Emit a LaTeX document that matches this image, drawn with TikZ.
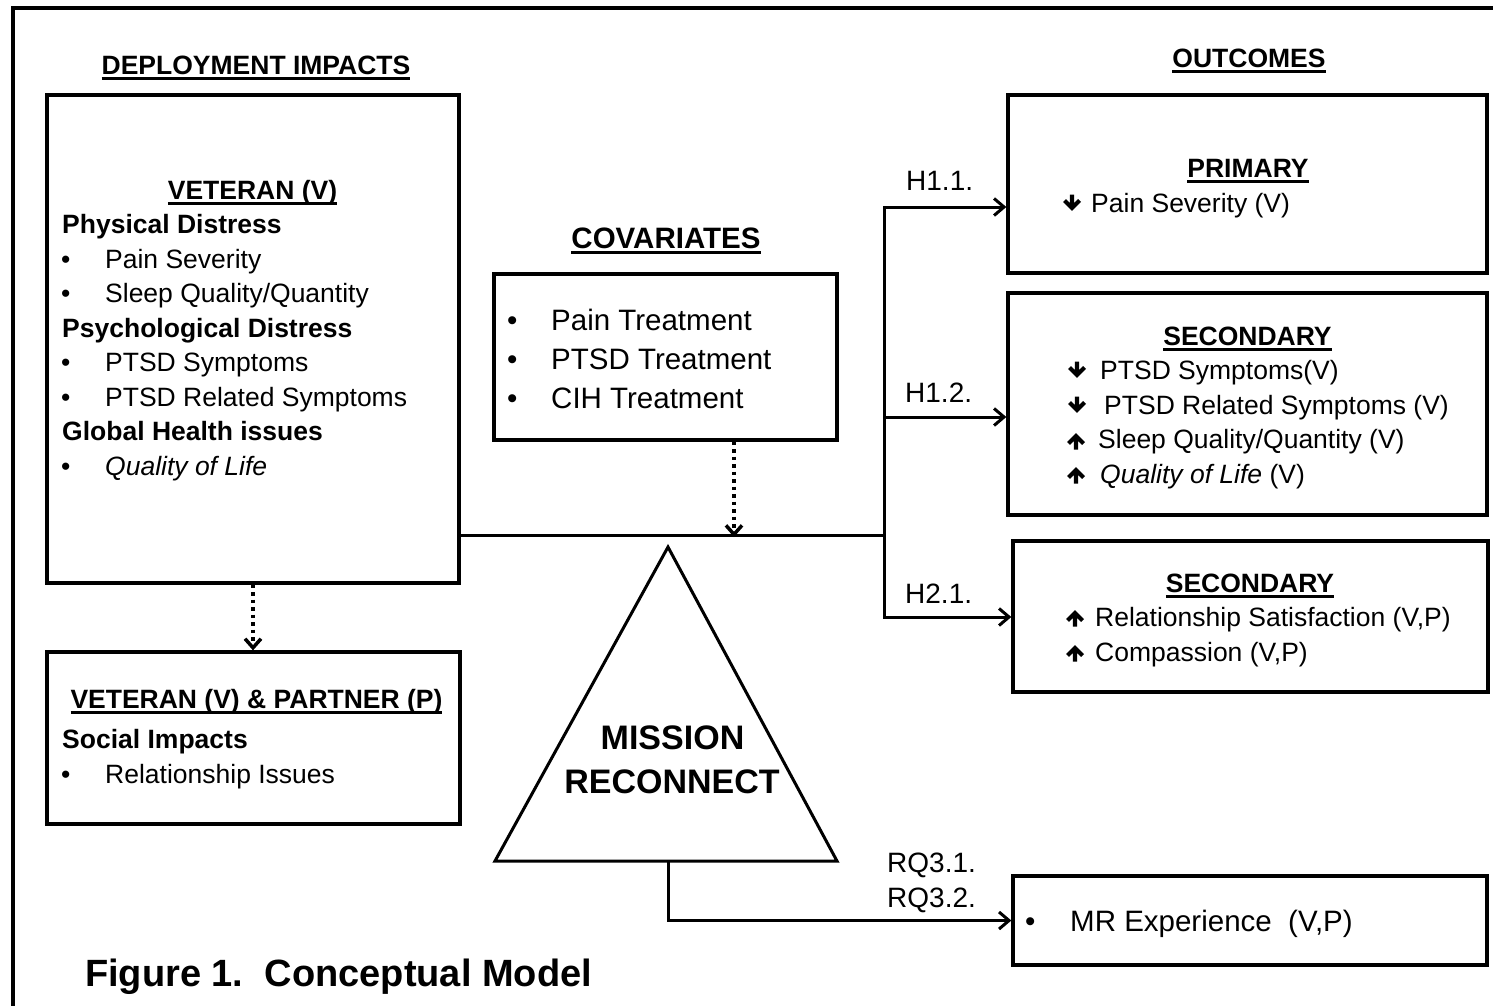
\documentclass[tikz,border=0pt]{standalone}
\usepackage{fontspec}
\setmainfont{Liberation Sans}
\usetikzlibrary{arrows.meta}
\newsavebox\ulbox
\newcommand\myul[1]{\sbox\ulbox{#1}\rlap{\rule[-5.5pt]{\wd\ulbox}{2.6pt}}\usebox\ulbox}
\newcommand\downglyph[2]{\draw[glyph,shift={(#1,#2)}] (0,-8.5) -- (0,5) (-7.5,-2.5) -- (0,5) -- (7.5,-2.5);}
\newcommand\upglyph[2]{\draw[glyph,shift={(#1,#2)}] (0,8.5) -- (0,-5) (-7.5,2.5) -- (0,-5) -- (7.5,2.5);}
\begin{document}
\begin{tikzpicture}[x=1pt,y=-1pt,
  box/.style={draw, line width=3.3pt, rectangle, inner sep=0pt},
  conn/.style={line width=3pt},
  arr/.style={line width=3pt, -{Straight Barb[length=10pt,width=17pt]}},
  dots/.style={line width=3.5pt, dash pattern=on 3.5pt off 4pt, -{Straight Barb[length=9pt,width=16pt]}},
  t/.style={inner sep=0pt, anchor=base west, font=\fontsize{26.5}{30}\selectfont},
  tb/.style={inner sep=0pt, anchor=base west, font=\fontsize{26.5}{30}\selectfont\bfseries},
  tc/.style={inner sep=0pt, anchor=base west, font=\fontsize{29.5}{34}\selectfont},
  lab/.style={inner sep=0pt, anchor=base west, font=\fontsize{28}{32}\selectfont},
  hd/.style={inner sep=0pt, anchor=base, font=\fontsize{26.5}{30}\selectfont\bfseries},
  glyph/.style={line width=4.2pt, line join=miter, line cap=butt}
]
\fill[white, use as bounding box] (0,0) rectangle (1493,1005);
% outer frame
\draw[line width=4pt] (13,1015) -- (13,8) -- (1500,8);

% headings
\node[hd] (hdep) at (256,74) {\myul{DEPLOYMENT IMPACTS}};
\node[hd] (hout) at (1249,67) {\myul{OUTCOMES}};
\node[hd, font=\fontsize{29.5}{34}\selectfont\bfseries] (hcov) at (666,248) {\myul{COVARIATES}};

% boxes
\node[box, minimum width=412pt, minimum height=488pt] (vet) at (253,339) {};
\node[box, minimum width=413pt, minimum height=172pt] (vp) at (253.5,738) {};
\node[box, minimum width=343pt, minimum height=166pt] (cov) at (665.5,357) {};
\node[box, minimum width=479pt, minimum height=178pt] (prim) at (1247.5,184) {};
\node[box, minimum width=479pt, minimum height=222pt] (sec1) at (1247.5,404) {};
\node[box, minimum width=475pt, minimum height=151pt] (sec2) at (1250.5,616.5) {};
\node[box, minimum width=474pt, minimum height=89pt] (mr) at (1250,920.5) {};

% veteran box text
\node[hd] (vett) at (252.5,199) {\myul{VETERAN (V)}};
\node[tb] (pdis) at (62,233.5) {Physical Distress};
\node[t] (bu1) at (61,268) {•};   \node[t] (vps) at (105,268) {Pain Severity};
\node[t] (bu2) at (61,302.5) {•}; \node[t] (vsq) at (105,302.5) {Sleep Quality/Quantity};
\node[tb] (psyd) at (62,337) {Psychological Distress};
\node[t] (bu3) at (61,371.5) {•}; \node[t] (vpt) at (105,371.5) {PTSD Symptoms};
\node[t] (bu4) at (61,406) {•};   \node[t] (vpr) at (105,406) {PTSD Related Symptoms};
\node[tb] (ghi) at (62,440.5) {Global Health issues};
\node[t] (bu5) at (61,475) {•};   \node[t] (vql) at (105,475) {\textit{Quality of Life}};

% veteran & partner box text
\node[hd] (vpt1) at (256.5,708) {\myul{VETERAN (V) \& PARTNER (P)}};
\node[tb] (soc) at (62,748) {Social Impacts};
\node[t] (bu6) at (61,783) {•}; \node[t] (rel) at (105,783) {Relationship Issues};

% covariates text
\node[tc] (bc1) at (507,330.5) {•}; \node[tc] (ct1) at (551,330.5) {Pain Treatment};
\node[tc] (bc2) at (507,369.5) {•}; \node[tc] (ct2) at (551,369.5) {PTSD Treatment};
\node[tc] (bc3) at (507,408.5) {•}; \node[tc] (ct3) at (551,408.5) {CIH Treatment};

% outcomes text
\node[hd] (hprim) at (1248,177) {\myul{PRIMARY}};
\downglyph{1072}{203}
\node[t] (o1) at (1091,212.5) {Pain Severity (V)};

\node[hd] (hsec1) at (1247.5,345) {\myul{SECONDARY}};
\downglyph{1077}{370}
\node[t] (o2) at (1100,379.5) {PTSD Symptoms(V)};
\downglyph{1077}{405}
\node[t] (o3) at (1104,414) {PTSD Related Symptoms (V)};
\upglyph{1076}{441}
\node[t] (o4) at (1098,448.5) {Sleep Quality/Quantity (V)};
\upglyph{1076}{475}
\node[t] (o5) at (1100,483) {\textit{Quality of Life} (V)};

\node[hd] (hsec2) at (1250,592) {\myul{SECONDARY}};
\upglyph{1075}{618}
\node[t] (o6) at (1095,626.5) {Relationship Satisfaction (V,P)};
\upglyph{1075}{653}
\node[t] (o7) at (1095,661.5) {Compassion (V,P)};

\node[tc] (bmr) at (1025,931) {•};
\node[tc] (omr) at (1070,931) {MR Experience\ \ (V,P)};

% triangle
\coordinate (tA) at (668,547);
\coordinate (tR) at (837,861);
\coordinate (tL) at (495,861);
\coordinate (tB) at (668,861);
\draw[line width=3pt, line join=miter] (tA) -- (tR) -- (tL) -- cycle;
\node[inner sep=0pt, anchor=base, font=\fontsize{34}{40}\selectfont\bfseries] (mis) at (672.5,749) {MISSION};
\node[inner sep=0pt, anchor=base, font=\fontsize{34}{40}\selectfont\bfseries] (rec) at (672,793) {RECONNECT};

% connectors
\coordinate (J) at (884,535);
\coordinate (b1) at (884,207);
\coordinate (b2) at (884,417);
\coordinate (b3) at (884,617);
\coordinate (cd) at (734,537);
\draw[conn] (vet.east |- J) -- (J);
\draw[arr] (J) -- (b1) -- (b1 -| prim.west);
\draw[arr] (J) -- (b3) -- (b3 -| sec2.west);
\draw[arr] (b2) -- (b2 -| sec1.west);
\draw[arr] (tB) |- (mr.west);
\draw[dots] (cd |- cov.south) -- (cd);
\draw[dots] (vet.south) -- (vet.south |- vp.north);

% labels
\node[lab] (h11) at (906,190) {H1.1.};
\node[lab] (h12) at (905,402) {H1.2.};
\node[lab] (h21) at (905,603) {H2.1.};
\node[lab] (rq1) at (887,872) {RQ3.1.};
\node[lab] (rq2) at (887,907) {RQ3.2.};

% caption
\node[inner sep=0pt, anchor=base west, font=\fontsize{38}{44}\selectfont\bfseries] (cap) at (85,986) {Figure 1.\ \ Conceptual Model};
\end{tikzpicture}
\end{document}
